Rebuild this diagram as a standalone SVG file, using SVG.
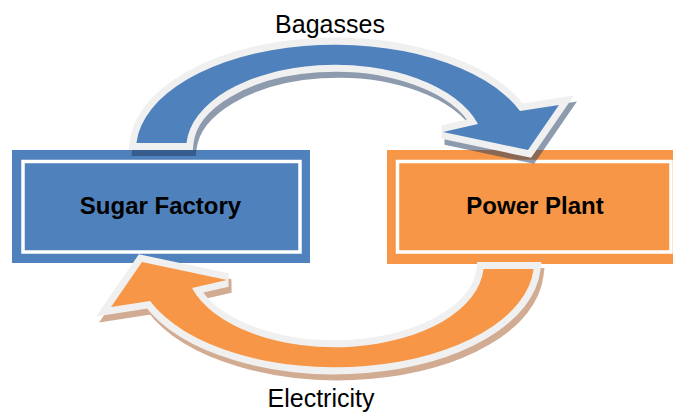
<svg xmlns="http://www.w3.org/2000/svg" xmlns:xlink="http://www.w3.org/1999/xlink" width="673" height="412" viewBox="0 0 673 412">
  <style>
    .box-text { font-family: "Liberation Sans", Arial, sans-serif; font-weight: bold; font-size: 24px; fill: #000; text-anchor: middle; }
    .label { font-family: "Liberation Sans", Arial, sans-serif; font-size: 25px; fill: #000; text-anchor: middle; }
    .inner { fill: none; stroke: #ffffff; stroke-width: 3.5; }
    .arrow-border { stroke: #f0f0f0; stroke-width: 14; stroke-linejoin: miter; stroke-miterlimit: 3; paint-order: stroke; }
    .shadow { stroke-width: 14; stroke-linejoin: miter; stroke-miterlimit: 3; }
  </style>
  <defs>
    <path id="arc" d="M 136.4 143 A 199 105 0 0 1 520 111 L 559 105 L 528 150 L 443 132 L 478 124 A 149 83 0 0 0 186.5 143 Z"/>
  </defs>

  <g id="sugar-factory">
    <rect x="12" y="150" width="298" height="113" fill="#4f81bd"/>
    <rect class="inner" x="23" y="161.5" width="277" height="90.5"/>
    <text class="box-text" x="160.5" y="214">Sugar Factory</text>
  </g>

  <g id="power-plant">
    <rect x="387" y="150" width="300" height="114" fill="#f79646"/>
    <rect class="inner" x="397.5" y="161.5" width="273.5" height="90.5"/>
    <text class="box-text" x="535" y="214">Power Plant</text>
  </g>

  <g id="connectors">
    <g id="bagasses-arrow">
      <g opacity="0.5" transform="translate(3,6)">
        <use xlink:href="#arc" class="shadow" fill="#1f3a5f" stroke="#1f3a5f"/>
      </g>
      <use xlink:href="#arc" class="arrow-border" fill="#4f81bd"/>
      <text class="label" x="330" y="33">Bagasses</text>
    </g>
    <g id="electricity-arrow">
      <g opacity="0.45" transform="translate(3,6)">
        <g transform="rotate(180 335 206)">
          <use xlink:href="#arc" class="shadow" fill="#9c4a10" stroke="#9c4a10"/>
        </g>
      </g>
      <g transform="rotate(180 335 206)">
        <use xlink:href="#arc" class="arrow-border" fill="#f79646"/>
      </g>
      <text class="label" x="321" y="407">Electricity</text>
    </g>
  </g>
</svg>
